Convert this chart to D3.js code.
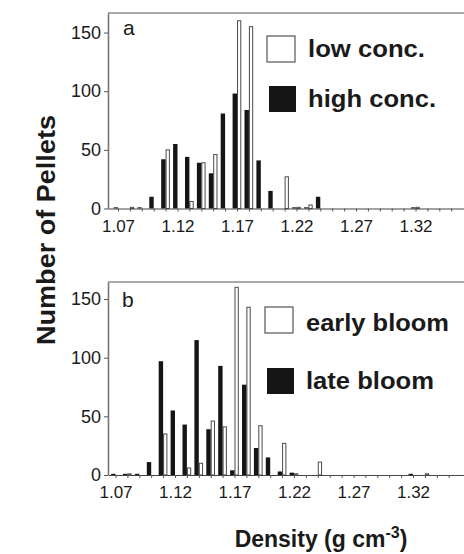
<!DOCTYPE html>
<html>
<head>
<meta charset="utf-8">
<script src="https://cdn.jsdelivr.net/npm/d3@7"></script>
<style>
  body { margin: 0; background: #fff; }
  svg { display: block; }
  text { font-family: "Liberation Sans", Arial, sans-serif; fill: #1a1a1a; }
</style>
</head>
<body>
<svg id="chart" width="464" height="554"></svg>
<script>
// ---- data (bins of 0.01 g cm-3) ----
const densityBins = [1.07, 1.08, 1.09, 1.10, 1.11, 1.12, 1.13, 1.14, 1.15, 1.16, 1.17, 1.18, 1.19, 1.20,
                     1.21, 1.22, 1.23, 1.24, 1.25, 1.26, 1.27, 1.28, 1.29, 1.30, 1.31, 1.32, 1.33, 1.34, 1.35];

// panel a
const lowConc    = [0, 1, 0, 0, 50, 0, 6, 39, 46, 0, 160, 155, 0, 0, 27, 1, 3, 0, 0, 0, 0, 0, 0, 0, 0, 1, 0, 0, 0];
const highConc   = [1, 0, 1, 10, 42, 55, 44, 39, 30, 81, 98, 84, 41, 15, 0, 1, 1, 10, 0, 0, 0, 0, 0, 0, 0, 1, 0, 0, 0];
// panel b
const earlyBloom = [0, 1, 0, 0, 35, 0, 6, 10, 46, 41, 160, 143, 42, 0, 27, 1, 0, 11, 0, 0, 0, 0, 0, 0, 0, 0, 1, 0, 0];
const lateBloom  = [1, 1, 1, 11, 97, 55, 43, 115, 39, 93, 4, 77, 23, 15, 3, 2, 0, 0, 0, 0, 0, 0, 0, 0, 0, 1, 0, 0, 0];

const yTicks = [0, 50, 100, 150];
const xLabelTicks = [1.07, 1.12, 1.17, 1.22, 1.27, 1.32];

// ---- layout for the two panels ----
const panels = [
  { letter: "a", open: lowConc, filled: highConc, openName: "low conc.", filledName: "high conc.",
    base: 208.5, top: 13, x107: 118,
    openBox: [267, 36], filledBox: [269, 86], openText: [308, 57, 117], filledText: [308, 107, 128],
    letterPos: [123, 35] },
  { letter: "b", open: earlyBloom, filled: lateBloom, openName: "early bloom", filledName: "late bloom",
    base: 475, top: 282, x107: 115.5,
    openBox: [265, 307], filledBox: [267, 368], openText: [306, 331, 143], filledText: [306, 389, 128],
    letterPos: [122, 307] }
];

const svg = d3.select("#chart");
const leftX = 108, rightX = 470;
const pxPerUnit = 1.173;   // pixels per pellet
const pxPerDens = 1190;    // pixels per g cm-3

panels.forEach(p => {
  const g = svg.append("g");

  // scales
  const x = d3.scaleLinear()
    .domain([1.07 - (p.x107 - leftX) / pxPerDens, 1.07 + (rightX - p.x107) / pxPerDens])
    .range([leftX, rightX]);
  const y = d3.scaleLinear()
    .domain([0, (p.base - p.top) / pxPerUnit])
    .range([p.base, p.top]);

  // top frame
  g.append("line")
    .attr("x1", leftX).attr("x2", rightX)
    .attr("y1", p.top).attr("y2", p.top)
    .attr("stroke", "#555").attr("stroke-width", 1.2);

  // bars: filled (left half of bin), open (right half)
  const rows = densityBins.map((d, i) => ({ d: d, open: p.open[i], filled: p.filled[i] }));

  g.selectAll("rect.open")
    .data(rows.filter(r => r.open > 0))
    .enter().append("rect")
    .attr("class", "open")
    .attr("x", r => x(r.d) + 0.5)
    .attr("width", r => x(r.d + 0.0036) - x(r.d) - 1)
    .attr("y", r => y(r.open))
    .attr("height", r => y(0) - y(r.open))
    .attr("fill", "#fff")
    .attr("stroke", "#4a4a4a")
    .attr("stroke-width", 1);

  g.selectAll("rect.filled")
    .data(rows.filter(r => r.filled > 0))
    .enter().append("rect")
    .attr("class", "filled")
    .attr("x", r => x(r.d - 0.0037))
    .attr("width", r => x(r.d) - x(r.d - 0.0037))
    .attr("y", r => y(r.filled))
    .attr("height", r => y(0) - y(r.filled))
    .attr("fill", "#151515");

  // x axis: small tick every 0.01, labels every 0.05
  const xAxis = g.append("g")
    .attr("transform", `translate(0,${p.base})`)
    .call(d3.axisBottom(x)
      .tickValues(densityBins)
      .tickSize(3)
      .tickSizeOuter(0)
      .tickPadding(8)
      .tickFormat(d => xLabelTicks.some(t => Math.abs(t - d) < 1e-6) ? d3.format(".2f")(d) : ""));
  xAxis.select(".domain").attr("stroke", "#444").attr("stroke-width", 1.2);
  xAxis.selectAll(".tick line").attr("stroke", "#555");
  xAxis.selectAll("text").attr("font-size", 17).attr("fill", "#1a1a1a")
    .attr("font-family", '"Liberation Sans", Arial, sans-serif');

  // y axis
  const yAxis = g.append("g")
    .attr("transform", `translate(${leftX},0)`)
    .call(d3.axisLeft(y).tickValues(yTicks).tickSize(4).tickSizeOuter(0).tickPadding(3));
  yAxis.select(".domain").attr("stroke", "#777").attr("stroke-width", 1.6);
  yAxis.selectAll(".tick line").attr("stroke", "#555");
  yAxis.selectAll("text").attr("font-size", 18).attr("fill", "#1a1a1a")
    .attr("font-family", '"Liberation Sans", Arial, sans-serif');

  // panel letter
  g.append("text")
    .attr("x", p.letterPos[0]).attr("y", p.letterPos[1])
    .attr("font-size", 21)
    .text(p.letter);

  // legend
  g.append("rect")
    .attr("x", p.openBox[0]).attr("y", p.openBox[1])
    .attr("width", 28).attr("height", 26)
    .attr("fill", "#fff").attr("stroke", "#555").attr("stroke-width", 1.2);
  g.append("rect")
    .attr("x", p.filledBox[0]).attr("y", p.filledBox[1])
    .attr("width", 27).attr("height", 26)
    .attr("fill", "#151515");
  g.append("text")
    .attr("x", p.openText[0]).attr("y", p.openText[1])
    .attr("font-size", 24).attr("font-weight", "bold")
    .attr("textLength", p.openText[2]).attr("lengthAdjust", "spacingAndGlyphs")
    .text(p.openName);
  g.append("text")
    .attr("x", p.filledText[0]).attr("y", p.filledText[1])
    .attr("font-size", 24).attr("font-weight", "bold")
    .attr("textLength", p.filledText[2]).attr("lengthAdjust", "spacingAndGlyphs")
    .text(p.filledName);
});

// axis titles
svg.append("text")
  .attr("transform", "translate(55,230) rotate(-90)")
  .attr("text-anchor", "middle")
  .attr("font-size", 26).attr("font-weight", "bold")
  .attr("textLength", 230).attr("lengthAdjust", "spacingAndGlyphs")
  .text("Number of Pellets");

const xt = svg.append("text")
  .attr("x", 321).attr("y", 547)
  .attr("text-anchor", "middle")
  .attr("font-size", 23).attr("font-weight", "bold");
xt.append("tspan").text("Density (g cm");
xt.append("tspan").attr("font-size", 16).attr("dy", -9).text("-3");
xt.append("tspan").attr("dy", 9).text(")");
</script>
</body>
</html>
